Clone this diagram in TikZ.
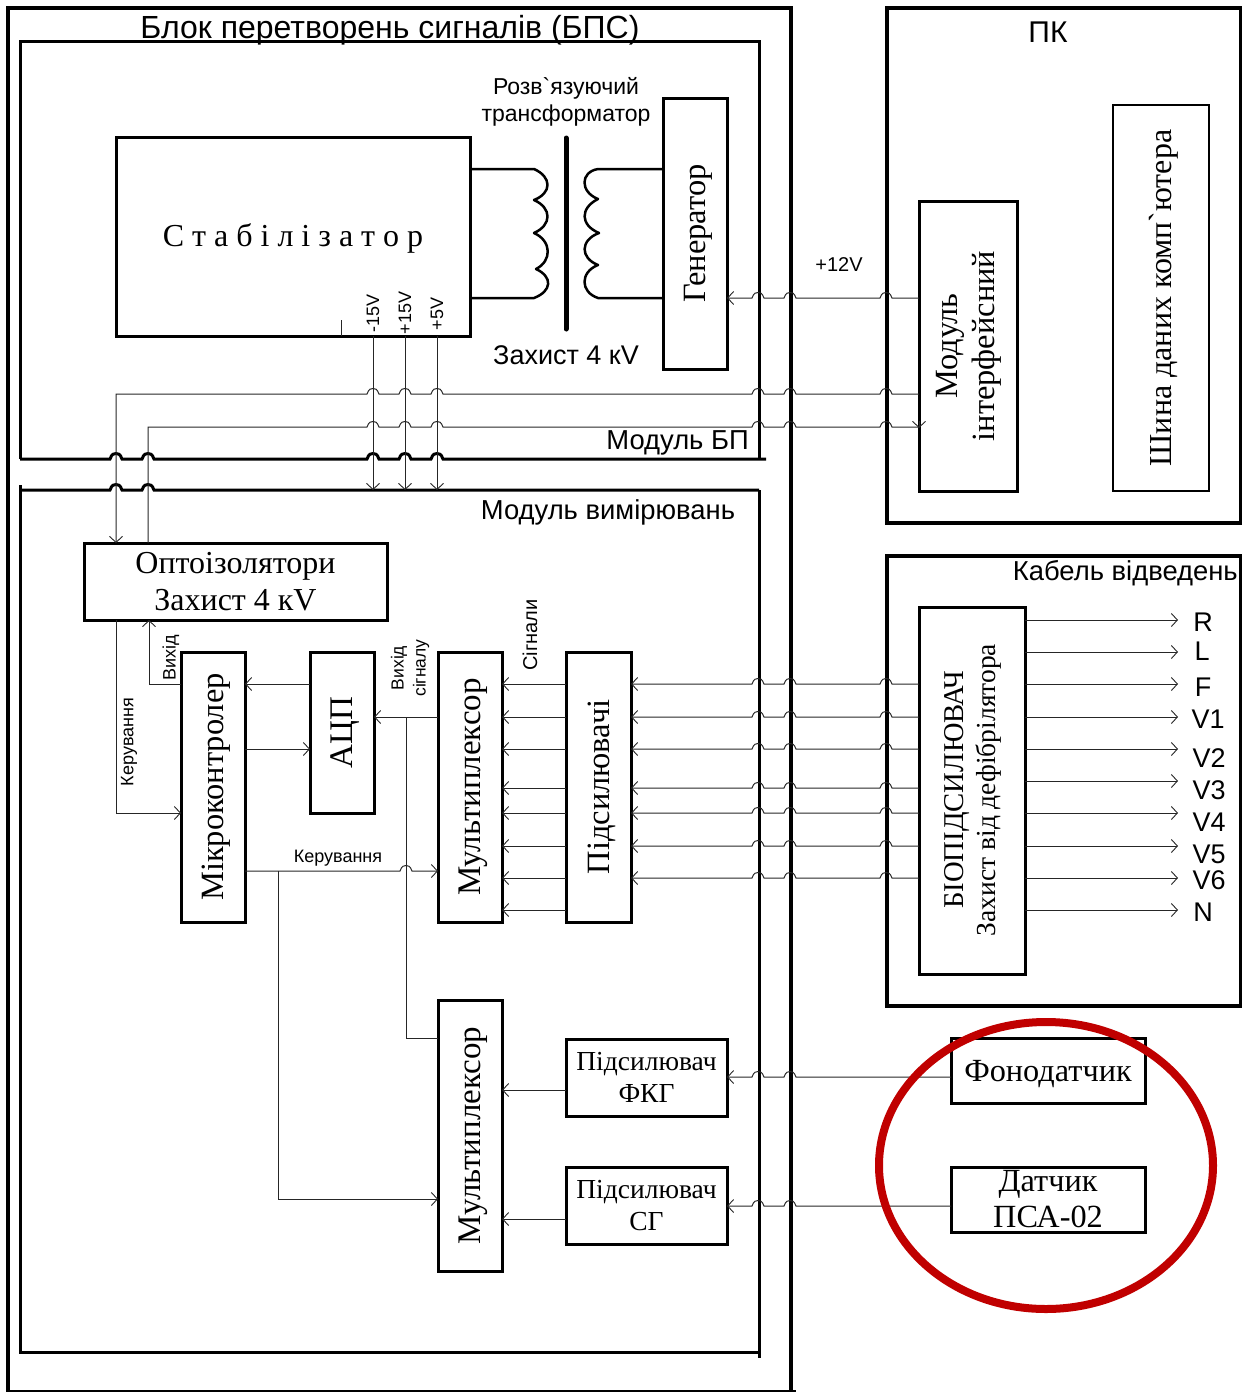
\documentclass[tikz,border=0pt]{standalone}
\usepackage{fontspec}
\usepackage{graphicx}
\setmainfont{Liberation Serif}
\setsansfont{Liberation Sans}
\newfontfamily\plainsans{Liberation Sans}
\newfontfamily\plainser{Liberation Serif}
\usetikzlibrary{arrows.meta,calc}
\newcommand{\szf}[2]{\fontsize{#1}{#2}\selectfont}
\newcommand{\vtxt}[1]{\hspace*{6pt}\rotatebox{90}{#1}}
% hop going leftwards / rightwards over a vertical line at x=#1, horizontal at y=#2
\newcommand{\hpl}[2]{-- (#1+6,#2) .. controls (#1+5,#2-.5) and (#1+5.5,#2-5.5) .. (#1,#2-5.5) .. controls (#1-5.5,#2-5.5) and (#1-5,#2-.5) .. (#1-6,#2)}
\newcommand{\hpr}[2]{-- (#1-6,#2) .. controls (#1-5,#2-.5) and (#1-5.5,#2-5.5) .. (#1,#2-5.5) .. controls (#1+5.5,#2-5.5) and (#1+5,#2-.5) .. (#1+6,#2)}
\tikzset{
  wire/.style={line width=1pt,draw=black!85},
  arr/.style={wire,-{Straight Barb[length=6pt,width=13pt,line width=.9pt]}},
  box/.style={draw=black,line width=3pt,rectangle,inner sep=0pt,outer sep=0pt,align=center,line join=miter},
  bigser/.style={font=\szf{32}{37}},
  sanslab/.style={font=\sffamily\szf{18}{22},inner sep=0pt},
  sanstxt/.style={font=\sffamily\szf{27.4}{32},inner sep=0pt},
  outerln/.style={line width=4.5pt,draw=black},
  modln/.style={line width=3pt,draw=black},
}
\begin{document}
\begin{tikzpicture}[x=1pt,y=-1pt]
\useasboundingbox (0,0) rectangle (1242,1392);
% outer block
\draw[outerln,line cap=rect] (8,1390) -- (8,8) -- (791,8) -- (791,1390);
\draw[line width=2pt] (8,1390.5) -- (796,1390.5);
\node[inner sep=0pt,font=\sffamily\szf{32}{36}] (ttl) at (390,30) {Блок перетворень сигналів (БПС)};
% BP module
\draw[modln] (20,459) -- (20,41) -- (759,41) -- (759,459);
\draw[modln] (20,459) \hpr{116}{459} \hpr{148}{459} \hpr{373}{459} \hpr{405}{459} \hpr{437}{459} -- (766,459);
\node[sanstxt,anchor=east] (mbp) at (749,443) {Модуль БП};
% measuring module
\draw[modln] (20,485) -- (20,1352) -- (759,1352);
\draw[modln] (759,490) -- (759,1358);
\draw[modln] (20,490) \hpr{116}{490} \hpr{148}{490} -- (759,490);
\node[sanstxt] (mvm) at (608,512) {Модуль вимірювань};
% stabiliser
\node[box,minimum width=354pt,minimum height=199pt,font=\szf{32}{36}] (stab) at (293,236.5) {\rule{0pt}{26pt}С т а б і л і з а т о р};
\draw[wire] (341,320) -- (341,336);
\node[rotate=90,sanslab] (v1) at (373,313) {-15V};
\node[rotate=90,sanslab] (v2) at (405,313) {+15V};
\node[rotate=90,sanslab] (v3) at (437,314) {+5V};
\foreach \x in {373,405,437} \draw[arr] (\x,336) -- (\x,490);
% generator and transformer
\node[box,minimum width=64pt,minimum height=271pt,font=\szf{32.5}{37}] (gen) at (695,233.5) {\vtxt{Генератор}};
\draw[line width=2.5pt,line join=round] (stab.east |- 0,169) -- (534,169)
  .. controls (552,177) and (552,193) .. (534,200)
  .. controls (552,208) and (552,225) .. (534,233)
  .. controls (552,241) and (552,261) .. (536,269)
  .. controls (553,277) and (552,291) .. (534,298) -- (stab.east |- 0,298);
\draw[line width=2.5pt,line join=round] (gen.west |- 0,169) -- (598,169)
  .. controls (580,172) and (580,192) .. (598,199)
  .. controls (580,208) and (580,225) .. (599,233)
  .. controls (580,240) and (580,258) .. (598,265)
  .. controls (580,272) and (580,292) .. (598,298) -- (gen.west |- 0,298);
\draw[line width=5pt,line cap=round] (566,138) -- (566,329);
\node[inner sep=0pt,font=\plainsans\szf{23}{27},align=center] (rt) at (566,101.5) {Розв`язуючий\\трансформатор};
\node[inner sep=0pt,font=\sffamily\szf{27}{30}] (z1) at (566,355) {Захист 4 кV};
% PC
\node[draw,line width=4.5pt,minimum width=354pt,minimum height=515pt,inner sep=0pt,outer sep=0pt] (pc) at (1064,265.5) {};
\node[inner sep=0pt,font=\sffamily\szf{30}{34}] (pck) at (1048,32) {ПК};
\node[box,minimum width=98pt,minimum height=290pt] (iface) at (968,346) {};
\node[rotate=90,inner sep=0pt,align=center,font=\szf{32.4}{37}] (ifacet) at (969,346) {Модуль\\інтерфейсний};
\node[box,line width=2pt,minimum width=96pt,minimum height=386pt,font=\plainser\szf{32}{35}] (bus) at (1161,298) {\vtxt{Шина даних комп`ютера}};
% cable box
\node[draw,line width=4.5pt,minimum width=354pt,minimum height=450pt,inner sep=0pt,outer sep=0pt] (cab) at (1064,781) {};
\node[sanstxt,anchor=east] (cabt) at (1238,573) {Кабель відведень};
\node[box,minimum width=106pt,minimum height=367pt] (bio) at (972,790.5) {};
\node[rotate=90,inner sep=0pt,font=\szf{28.7}{32}] (biot1) at (957,790) {БІОПІДСИЛЮВАЧ};
\node[rotate=90,inner sep=0pt,font=\szf{27.5}{32}] (biot2) at (989,790) {Захист від дефібрілятора};
% blocks of measuring module
\node[box,minimum width=303pt,minimum height=77pt,bigser] (opto) at (235.5,581.5) {Оптоізолятори\\Захист 4 кV};
\node[box,minimum width=64pt,minimum height=270pt,font=\szf{32.5}{37}] (mcu) at (213,787) {\vtxt{Мікроконтролер}};
\node[box,minimum width=64pt,minimum height=161pt,font=\szf{33}{37}] (adc) at (342,732.5) {\vtxt{АЦП}};
\node[box,minimum width=64pt,minimum height=270pt,font=\szf{33}{37}] (mux) at (470,787) {\vtxt{Мультиплексор}};
\node[box,minimum width=65pt,minimum height=270pt,font=\szf{32.5}{37}] (amp) at (598.5,787) {\vtxt{Підсилювачі}};
\node[box,minimum width=64pt,minimum height=271pt,font=\szf{33}{37}] (mux2) at (470,1135.5) {\vtxt{Мультиплексор}};
\node[box,minimum width=161pt,minimum height=77pt,font=\szf{27.5}{32}] (fkg) at (646.5,1077.5) {Підсилювач\\ФКГ};
\node[box,minimum width=161pt,minimum height=77pt,font=\szf{27.5}{32}] (sg) at (646.5,1205.5) {Підсилювач\\СГ};
\node[box,minimum width=194pt,minimum height=65pt,font=\szf{32.3}{36}] (phono) at (1048,1070.5) {\rule{0pt}{29pt}Фонодатчик};
\node[box,minimum width=194pt,minimum height=65pt,font=\szf{32.3}{36}] (psa) at (1048,1199.5) {Датчик\\ПСА-02};
% power & control wires
\draw[arr] (iface.west |- 0,298) \hpl{886}{298} \hpl{790}{298} \hpl{758}{298} -- (gen.east |- 0,298);
\node[sanslab,font=\sffamily\szf{20}{24}] (v12) at (839,265) {+12V};
\draw[arr] (iface.west |- 0,394) \hpl{886}{394} \hpl{790}{394} \hpl{758}{394} \hpl{437}{394} \hpl{405}{394} \hpl{373}{394} -- (116,394) -- (opto.north -| 116,0);
\draw[wire] (opto.north -| 148,0) -- (148,427) \hpr{373}{427} \hpr{405}{427} \hpr{437}{427} \hpr{758}{427} \hpr{790}{427} \hpr{886}{427} -- (iface.west |- 0,427);
\draw[arr] (iface.west |- 0,421) -- (iface.west |- 0,428);
\draw[arr] (opto.south -| 116,0) -- (116,813) -- (mcu.west |- 0,813);
\draw[arr] (mcu.west |- 0,684) -- (149,684) -- (opto.south -| 149,0);
\node[rotate=90,sanslab] (kv) at (129,742) {Керування};
\node[rotate=90,sanslab] (vy) at (171,658) {Вихід};
\draw[arr] (adc.west |- 0,684) -- (mcu.east |- 0,684);
\draw[arr] (mcu.east |- 0,749) -- (adc.west |- 0,749);
\draw[arr] (mux.west |- 0,717) -- (adc.east |- 0,717);
\draw[wire] (406,717) -- (406,1038) -- (mux2.west |- 0,1038);
\node[rotate=90,sanslab,align=center,font=\sffamily\szf{17.5}{22}] (vs) at (410,668) {Вихід\\сігналу};
\draw[arr] (mcu.east |- 0,871) \hpr{406}{871} -- (mux.west |- 0,871);
\node[sanslab] (kg) at (338,858) {Керування};
\draw[arr] (278,871) -- (278,1199) -- (mux2.west |- 0,1199);
\node[rotate=90,sanslab,font=\sffamily\szf{20}{24}] (sig) at (530,635) {Сігнали};
% signal wires
\foreach \y in {684,717,749,788,813,846,878} {
  \draw[arr] (bio.west |- 0,\y) \hpl{886}{\y} \hpl{790}{\y} \hpl{758}{\y} -- (amp.east |- 0,\y);
}
\foreach \y in {684,717,749,788,813,846,878,910} {
  \draw[arr] (amp.west |- 0,\y) -- (mux.east |- 0,\y);
}
\draw[arr] (fkg.west |- 0,1090) -- (mux2.east |- 0,1090);
\draw[arr] (sg.west |- 0,1219) -- (mux2.east |- 0,1219);
\draw[arr] (phono.west |- 0,1077) \hpl{790}{1077} \hpl{758}{1077} -- (fkg.east |- 0,1077);
\draw[arr] (psa.west |- 0,1206) \hpl{790}{1206} \hpl{758}{1206} -- (sg.east |- 0,1206);
% outputs
\tikzset{ldl/.style={inner sep=0pt,font=\sffamily\szf{27}{30}}}
\foreach \y/\n/\lx/\ly in {620/R/1203/622,652/L/1202/651,684/F/1203/687,717/V1/1208/719,749/V2/1209/758,781/V3/1209/790,813/V4/1209/822,846/V5/1209/854,878/V6/1209/880,910/N/1203/912} {
  \draw[arr] (bio.east |- 0,\y) -- (1178,\y);
  \node[ldl] (lead\n) at (\lx,\ly) {\n};
}
% red ring
\definecolor{ringred}{RGB}{192,0,0}
\draw[line width=8pt,draw=ringred] (1046,1165.5) ellipse [x radius=167, y radius=143.5];
\end{tikzpicture}
\end{document}
